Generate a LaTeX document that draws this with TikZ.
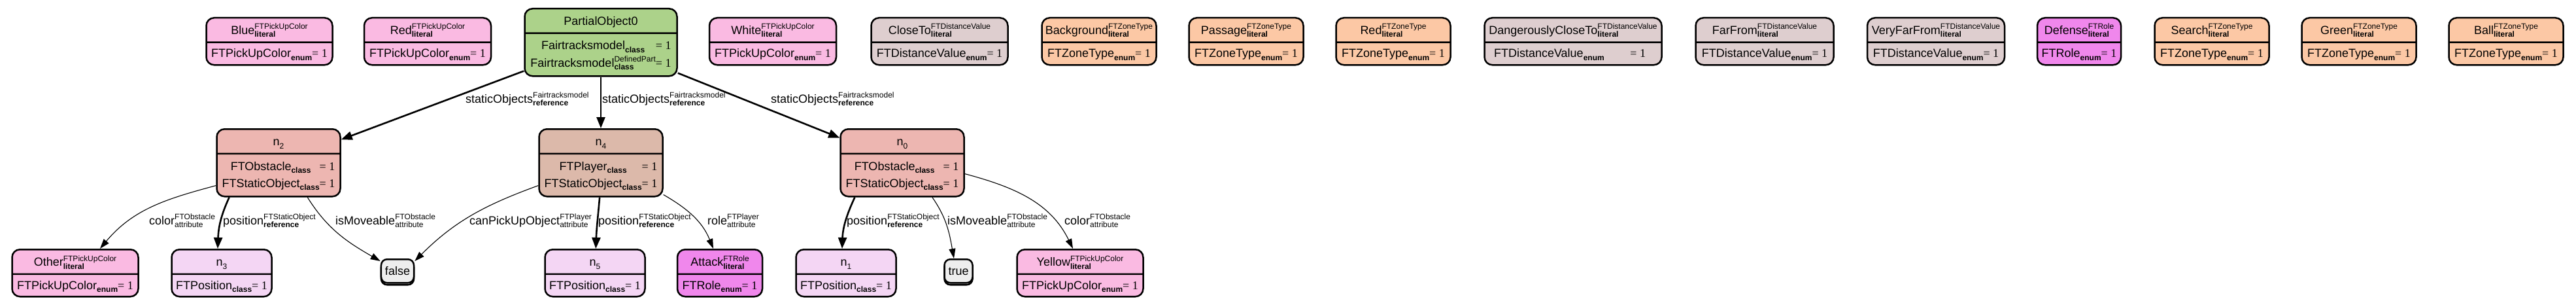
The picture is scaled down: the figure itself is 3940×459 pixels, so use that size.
\documentclass[tikz,border=0pt]{standalone}
\usepackage{fontspec}
\setmainfont{Liberation Sans}
\newfontfamily\numfont{Liberation Serif}
\usetikzlibrary{shapes.multipart,arrows.meta,shadows}

\definecolor{ftpickup}{RGB}{250,186,226}
\definecolor{ftdistance}{RGB}{222,206,207}
\definecolor{ftzone}{RGB}{252,200,165}
\definecolor{ftrole}{RGB}{240,135,236}
\definecolor{ftobstacle}{RGB}{237,182,177}
\definecolor{ftplayer}{RGB}{220,185,170}
\definecolor{ftposition}{RGB}{244,214,244}
\definecolor{ftpartial}{RGB}{172,210,138}
\definecolor{ftvalue}{RGB}{238,238,238}

% small scripts stacked after a word
\newlength{\ftssw}
\newcommand{\ftscr}{\fontsize{12}{14}\selectfont}
\newcommand{\ftss}[2]{{\ftscr\setbox0\hbox{#1}\setbox2\hbox{#2}%
  \setlength{\ftssw}{\wd0}\ifdim\wd2>\ftssw \setlength{\ftssw}{\wd2}\fi
  \raisebox{7.5pt}{\rlap{\box0}}\raisebox{-4.5pt}{\rlap{\box2}}\kern\ftssw}}
\newcommand{\ftone}{{\numfont= 1}}
\newcommand{\fthead}[1]{\rule[-11pt]{0pt}{35pt}#1}
\newcommand{\ftlit}[2]{\fthead{#1\ftss{#2}{\textbf{literal}}}}
\newcommand{\ftbody}[1]{\rule[-10pt]{0pt}{32pt}#1\ftone}
\newcommand{\ftenum}[1]{\ftbody{#1\ftss{}{\textbf{enum}}}}
\newcommand{\ftclass}[1]{\ftbody{#1\ftss{}{\textbf{class}}}}
\newcommand{\ftrows}[2]{{\renewcommand{\arraystretch}{0.5}%
  \begin{tabular}{@{}c@{}l@{}}
    \rule[-5pt]{0pt}{29pt}#1 & \ftone\\
    \rule[-13pt]{0pt}{34pt}#2 & \ftone
  \end{tabular}}}

\tikzset{%
  ft box/.style={
    rectangle split,
    rectangle split parts=2,
    draw,
    line width=2.5pt,
    rounded corners=12pt,
    inner xsep=3pt,
    inner ysep=0pt,
    anchor=north
  },
  ft value/.style={
    draw,
    line width=2.5pt,
    rounded corners=9pt,
    fill=ftvalue,
    inner xsep=6pt,
    inner ysep=0pt,
    anchor=north,
    copy shadow={shadow xshift=0pt, shadow yshift=-3pt}
  },
  ref edge/.style={-{Triangle[length=17pt,width=13pt]}, line width=2.6pt},
  attr edge/.style={-{Triangle[length=15pt,width=10pt]}, line width=1.1pt},
  edge text/.style={anchor=base west, inner sep=0pt},
}

\begin{document}
\begin{tikzpicture}[x=1pt, y=1pt, font=\fontsize{18}{21}\selectfont]
  \useasboundingbox (0,0) rectangle (3940,459);

  % top row
  \node [ft box, fill=ftpartial, minimum width=233] (po) at (919,447)
    {\fthead{PartialObject0}\nodepart{two}\ftrows{Fairtracksmodel\ftss{}{\textbf{class}}}{Fairtracksmodel\ftss{DefinedPart}{\textbf{class}}}};

  \foreach \nm/\x/\w/\col/\lit/\type in {
      blue/412/193/ftpickup/Blue/FTPickUpColor,
      red-color/654/194/ftpickup/Red/FTPickUpColor,
      white/1182/194/ftpickup/White/FTPickUpColor,
      close/1437/209/ftdistance/CloseTo/FTDistanceValue,
      background/1681/175/ftzone/Background/FTZoneType,
      passage/1906/175/ftzone/Passage/FTZoneType,
      red-zone/2131/175/ftzone/Red/FTZoneType,
      far/2699/211/ftdistance/FarFrom/FTDistanceValue,
      very-far/2961/210/ftdistance/VeryFarFrom/FTDistanceValue,
      defense/3180/128/ftrole/Defense/FTRole,
      search/3383/175/ftzone/Search/FTZoneType,
      green/3608/175/ftzone/Green/FTZoneType,
      ball/3833/175/ftzone/Ball/FTZoneType}
    \node [ft box, fill=\col, minimum width=\w] (\nm) at (\x,433)
      {\ftlit{\lit}{\type}\nodepart{two}\ftenum{\type}};

  \node [ft box, fill=ftdistance, minimum width=271] (dangerously) at (2406,433)
    {\ftlit{DangerouslyCloseTo}{FTDistanceValue}\nodepart{two}\rule[-10pt]{0pt}{32pt}\makebox[258pt]{\hspace{8pt}FTDistanceValue\ftss{}{\textbf{enum}}\hfill\ftone\hspace{18pt}}};

  % middle row
  \foreach \nm/\x/\col/\idx/\cls in {
      n2/426/ftobstacle/2/FTObstacle,
      n4/919/ftplayer/4/FTPlayer,
      n0/1380/ftobstacle/0/FTObstacle}
    \node [ft box, fill=\col, minimum width=189] (\nm) at (\x,263)
      {\fthead{n\ftss{}{\idx}}\nodepart{two}\ftrows{\cls\ftss{}{\textbf{class}}}{FTStaticObject\ftss{}{\textbf{class}}}};

  % bottom row
  \foreach \nm/\x/\idx in {n3/339/3, n5/910/5, n1/1294/1}
    \node [ft box, fill=ftposition, minimum width=153] (\nm) at (\x,79)
      {\fthead{n\ftss{}{\idx}}\nodepart{two}\ftclass{FTPosition}};

  \node [ft box, fill=ftpickup, minimum width=193] (other) at (115,79)
    {\ftlit{Other}{FTPickUpColor}\nodepart{two}\ftenum{FTPickUpColor}};
  \node [ft box, fill=ftpickup, minimum width=193] (yellow) at (1652,79)
    {\ftlit{Yellow}{FTPickUpColor}\nodepart{two}\ftenum{FTPickUpColor}};
  \node [ft box, fill=ftrole, minimum width=130] (attack) at (1101,79)
    {\ftlit{Attack}{FTRole}\nodepart{two}\ftenum{FTRole}};

  \node [ft value] (val-false) at (608,64) {\rule[-12pt]{0pt}{36pt}false};
  \node [ft value] (val-true) at (1466,64) {\rule[-12pt]{0pt}{36pt}true};

  % edges
  \foreach \j in {n2,n4,n0}
    \draw [ref edge] (po) -- (\j);

  \draw [attr edge] (n2.200) to [out=195, in=50] ([xshift=38pt]other.north);
  \draw [ref edge] (n2.-145) to [out=245, in=88] ([xshift=-6pt]n3.north);
  \draw [attr edge] (n2.-50) to [out=-58, in=150] (val-false.150);

  \draw [attr edge] (n4.200) to [out=200, in=45] (val-false.30);
  \draw [ref edge] (n4.-92) to [out=-95, in=88] (n5);
  \draw [attr edge] (n4.-27) to [out=-30, in=112] ([xshift=-10pt]attack.north);

  \draw [ref edge] (n0.-144) to [out=245, in=88] ([xshift=-6pt]n1.north);
  \draw [attr edge] (n0.-49) to [out=-55, in=100] (val-true.110);
  \draw [attr edge] (n0.-10) to [out=-15, in=116] ([xshift=-11pt]yellow.north);

  % edge labels
  \foreach \nm/\x/\y/\txt in {
      lbl-po-n2/712/302/{staticObjects\ftss{Fairtracksmodel}{\textbf{reference}}},
      lbl-po-n4/921/302/{staticObjects\ftss{Fairtracksmodel}{\textbf{reference}}},
      lbl-po-n0/1179/302/{staticObjects\ftss{Fairtracksmodel}{\textbf{reference}}},
      lbl-n2-other/228/116/{color\ftss{FTObstacle}{attribute}},
      lbl-n2-n3/341/116/{position\ftss{FTStaticObject}{\textbf{reference}}},
      lbl-n2-false/513/116/{isMoveable\ftss{FTObstacle}{attribute}},
      lbl-n4-false/718/116/{canPickUpObject\ftss{FTPlayer}{attribute}},
      lbl-n4-n5/915/116/{position\ftss{FTStaticObject}{\textbf{reference}}},
      lbl-n4-attack/1082/116/{role\ftss{FTPlayer}{attribute}},
      lbl-n0-n1/1295/116/{position\ftss{FTStaticObject}{\textbf{reference}}},
      lbl-n0-true/1449/116/{isMoveable\ftss{FTObstacle}{attribute}},
      lbl-n0-yellow/1628/116/{color\ftss{FTObstacle}{attribute}}}
    \node [edge text] (\nm) at (\x,\y) {\txt};

\end{tikzpicture}
\end{document}
